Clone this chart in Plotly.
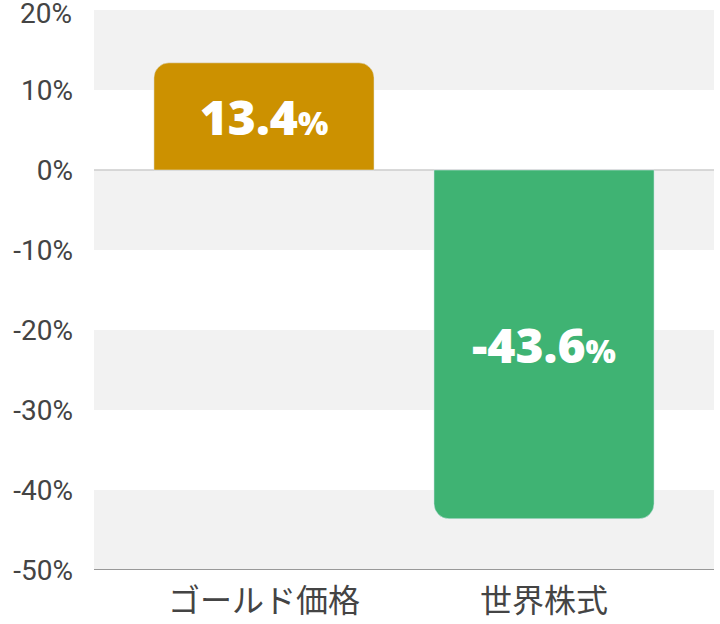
import plotly.graph_objects as go

categories = ["ゴールド価格", "世界株式"]
values = [13.4, -43.6]
colors = ["#CC9100", "#3FB373"]
tick_vals = [10, 0, -10, -20, -30, -40, -50]
tick_text = [f"{v}%" for v in tick_vals]
top_tick = 20
bands = [(10, 20), (-10, 0), (-30, -20), (-50, -40)]

labels = [f"{v:.1f}<span style='font-size:32px'>%</span>" for v in values]

fig = go.Figure()
fig.add_trace(go.Bar(
    x=categories, y=values, marker_color=colors, width=0.786,
    text=labels, textposition="inside", insidetextanchor="middle",
    textangle=0,
    textfont=dict(family="Open Sans", size=48, color="white", weight=800),
    hoverinfo="skip",
))

shapes = []
for lo, hi in bands:
    shapes.append(dict(type="rect", xref="paper", yref="y", x0=0, x1=1, y0=lo, y1=hi,
                       fillcolor="#F2F2F2", line_width=0, layer="below"))
shapes.append(dict(type="line", xref="paper", yref="y", x0=0, x1=1, y0=0, y1=0,
                   line=dict(color="#CCCCCC", width=1.5), layer="below"))
shapes.append(dict(type="line", xref="paper", yref="y", x0=0, x1=1, y0=-50, y1=-50,
                   line=dict(color="#999999", width=2), layer="above"))

fig.add_annotation(x=0, xref="paper", y=top_tick, yref="y", text=f"{top_tick}%",
                   showarrow=False, xanchor="right", yanchor="middle", xshift=-20, yshift=-3,
                   font=dict(family="Roboto", size=28, color="#444444"))

fig.update_layout(
    width=720, height=624,
    margin=dict(l=94, r=6, t=10, b=54),
    paper_bgcolor="white", plot_bgcolor="white",
    barcornerradius=15,
    shapes=shapes,
    showlegend=False,
    xaxis=dict(tickfont=dict(family="Noto Sans CJK JP", size=32, color="#444444"),
               range=[-0.607, 1.607],
               showgrid=False, zeroline=False, showline=False, ticks="",
               automargin=False, ticklabelstandoff=9),
    yaxis=dict(range=[-50.001, 20.001], tickvals=tick_vals, ticktext=tick_text,
               tickfont=dict(family="Roboto", size=28, color="#444444"),
               showgrid=False, zeroline=False, showline=False, ticks="",
               ticklabelstandoff=20, automargin=False),
)

fig.write_html("out.html", config={"displayModeBar": False},
               post_script="document.body.style.margin='0';document.body.style.overflow='hidden';")
